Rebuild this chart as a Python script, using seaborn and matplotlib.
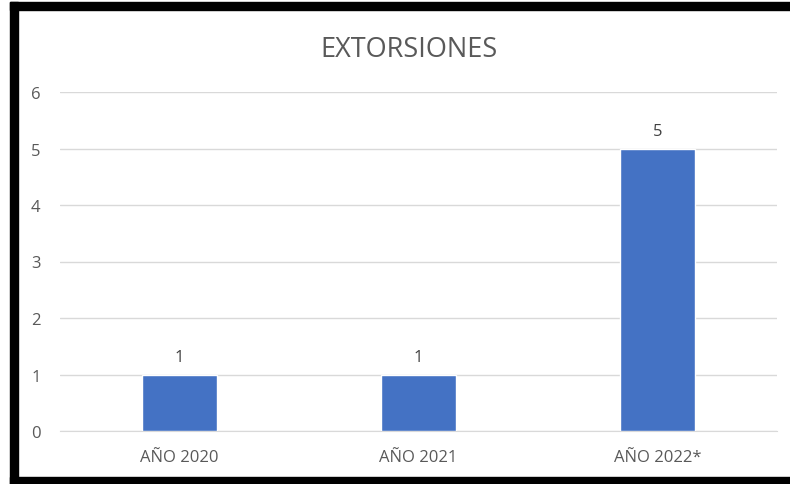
import matplotlib
matplotlib.use("Agg")
import matplotlib.pyplot as plt
from matplotlib.patches import Rectangle
import pandas as pd
import seaborn as sns

# Chart data
years = ["AÑO 2020", "AÑO 2021", "AÑO 2022*"]
extorsiones = [1, 1, 5]
y_ticks = [0, 1, 2, 3, 4, 5, 6]

df = pd.DataFrame({"year": years, "count": extorsiones})

sns.set_style("white")
plt.rcParams["font.family"] = ["Open Sans", "DejaVu Sans"]

W, H = 790, 485
fig = plt.figure(figsize=(W / 100, H / 100), dpi=100)
ax = fig.add_axes([60 / W, (H - 432) / H, (777 - 60) / W, (432 - 93) / H])

sns.barplot(data=df, x="year", y="count", color="#4472C4", width=0.31,
            saturation=1, ax=ax, zorder=3)

ax.set_ylim(0, 6)
ax.set_xlim(-0.5, 2.5)
ax.set_yticks(y_ticks)
ax.grid(axis="y", color="#d9d9d9", linewidth=1, zorder=0)
for s in ax.spines.values():
    s.set_visible(False)
ax.spines["bottom"].set_visible(True)
ax.spines["bottom"].set_color("#d9d9d9")
ax.tick_params(axis="both", length=0, labelsize=12, colors="#595959")
ax.tick_params(axis="y", pad=14)
ax.tick_params(axis="x", pad=13)
ax.set_xlabel("")
ax.set_ylabel("")

# value labels above the bars
for c in ax.containers:
    ax.bar_label(c, padding=7, fontsize=12, color="#404040")

fig.text(409 / W, (H - 50) / H, "EXTORSIONES", ha="center",
         va="center", fontsize=19.5, color="#595959")

# thick black frame (left, top, bottom)
fig.patches.append(Rectangle((10 / W, 0), 8 / W, (H - 3) / H, transform=fig.transFigure,
                             color="black", zorder=10))
fig.patches.append(Rectangle((10 / W, (H - 11) / H), (W - 10) / W, 8 / H,
                             transform=fig.transFigure, color="black", zorder=10))
fig.patches.append(Rectangle((10 / W, 0), (W - 10) / W, 7 / H,
                             transform=fig.transFigure, color="black", zorder=10))

fig.savefig("out.png", dpi=100)
